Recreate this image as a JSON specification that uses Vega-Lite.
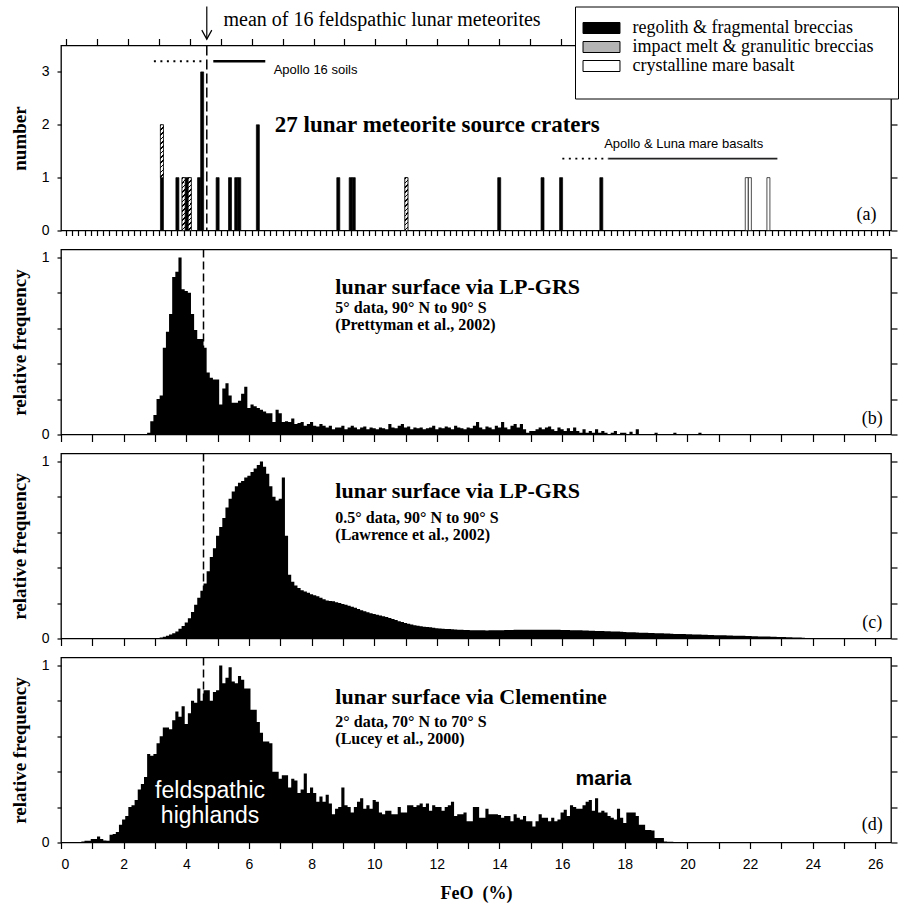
{
"$schema": "https://vega.github.io/schema/vega-lite/v6.json",
"padding": {"left": 9, "top": 4.5, "right": 0, "bottom": 3},
"bounds": "flush",
"spacing": 19,
"config": {
  "view": {"stroke": "black", "strokeWidth": 1.3},
  "axis": {"domain": false, "grid": false, "tickColor": "black", "tickWidth": 1.2, "labelColor": "black", "titleColor": "black", "labelFont": "Liberation Sans", "labelFontSize": 14, "titleFont": "Liberation Serif", "titleFontSize": 19, "titleFontWeight": "bold"},
  "text": {"font": "Liberation Serif", "color": "black"}
},
"datasets": {
  "met": [
    {"feo": 3.1, "type": "regolith & fragmental breccias", "n": 1},
    {"feo": 3.1, "type": "impact melt & granulitic breccias", "n": 1},
    {"feo": 3.6, "type": "regolith & fragmental breccias", "n": 1},
    {"feo": 3.8, "type": "impact melt & granulitic breccias", "n": 1},
    {"feo": 3.9, "type": "regolith & fragmental breccias", "n": 1},
    {"feo": 4.0, "type": "impact melt & granulitic breccias", "n": 1},
    {"feo": 4.3, "type": "regolith & fragmental breccias", "n": 1},
    {"feo": 4.4, "type": "regolith & fragmental breccias", "n": 3},
    {"feo": 4.9, "type": "regolith & fragmental breccias", "n": 1},
    {"feo": 5.3, "type": "regolith & fragmental breccias", "n": 1},
    {"feo": 5.5, "type": "regolith & fragmental breccias", "n": 1},
    {"feo": 5.6, "type": "regolith & fragmental breccias", "n": 1},
    {"feo": 6.2, "type": "regolith & fragmental breccias", "n": 2},
    {"feo": 8.8, "type": "regolith & fragmental breccias", "n": 1},
    {"feo": 9.2, "type": "regolith & fragmental breccias", "n": 1},
    {"feo": 9.3, "type": "regolith & fragmental breccias", "n": 1},
    {"feo": 11.0, "type": "impact melt & granulitic breccias", "n": 1},
    {"feo": 14.0, "type": "regolith & fragmental breccias", "n": 1},
    {"feo": 15.4, "type": "regolith & fragmental breccias", "n": 1},
    {"feo": 16.0, "type": "regolith & fragmental breccias", "n": 1},
    {"feo": 17.3, "type": "regolith & fragmental breccias", "n": 1},
    {"feo": 22.0, "type": "crystalline mare basalt", "n": 1},
    {"feo": 22.1, "type": "crystalline mare basalt", "n": 1},
    {"feo": 22.7, "type": "crystalline mare basalt", "n": 1}
  ],
  "b": [
    {"x":2.7,"f":0.0},{"x":2.8,"f":0.01},{"x":2.9,"f":0.075},{"x":3.0,"f":0.11},{"x":3.1,"f":0.2},{"x":3.2,"f":0.22},{"x":3.3,"f":0.49},{"x":3.4,"f":0.58},{"x":3.5,"f":0.68},{"x":3.6,"f":0.89},{"x":3.7,"f":0.92},{"x":3.8,"f":1.0},{"x":3.9,"f":0.82},{"x":4.0,"f":0.81},{"x":4.1,"f":0.8},{"x":4.2,"f":0.68},{"x":4.3,"f":0.59},{"x":4.4,"f":0.54},{"x":4.5,"f":0.54},{"x":4.6,"f":0.49},{"x":4.7,"f":0.35},{"x":4.8,"f":0.32},{"x":4.9,"f":0.31},{"x":5.0,"f":0.31},{"x":5.1,"f":0.17},{"x":5.2,"f":0.26},{"x":5.3,"f":0.29},{"x":5.4,"f":0.22},{"x":5.5,"f":0.18},{"x":5.6,"f":0.18},{"x":5.7,"f":0.19},{"x":5.8,"f":0.23},{"x":5.9,"f":0.27},{"x":6.0,"f":0.15},{"x":6.1,"f":0.17},{"x":6.2,"f":0.16},{"x":6.3,"f":0.15},{"x":6.4,"f":0.14},{"x":6.5,"f":0.13},{"x":6.6,"f":0.12},{"x":6.7,"f":0.12},{"x":6.8,"f":0.07},{"x":6.9,"f":0.14},{"x":7.0,"f":0.12},{"x":7.1,"f":0.07},{"x":7.2,"f":0.075},{"x":7.3,"f":0.07},{"x":7.4,"f":0.09},{"x":7.5,"f":0.06},{"x":7.6,"f":0.065},{"x":7.7,"f":0.07},{"x":7.8,"f":0.05},{"x":7.9,"f":0.06},{"x":8.0,"f":0.07},{"x":8.1,"f":0.05},{"x":8.2,"f":0.045},{"x":8.3,"f":0.06},
    {"x":8.4,"f":0.05},{"x":8.5,"f":0.04},{"x":8.6,"f":0.05},{"x":8.7,"f":0.03},{"x":8.8,"f":0.04},{"x":8.9,"f":0.04},{"x":9.0,"f":0.05},{"x":9.1,"f":0.03},{"x":9.2,"f":0.04},{"x":9.3,"f":0.05},{"x":9.4,"f":0.04},{"x":9.5,"f":0.03},{"x":9.6,"f":0.04},{"x":9.7,"f":0.045},{"x":9.8,"f":0.03},{"x":9.9,"f":0.04},{"x":10.0,"f":0.035},{"x":10.1,"f":0.03},{"x":10.2,"f":0.04},{"x":10.3,"f":0.035},{"x":10.4,"f":0.03},{"x":10.5,"f":0.06},{"x":10.6,"f":0.04},{"x":10.7,"f":0.035},{"x":10.8,"f":0.05},{"x":10.9,"f":0.06},{"x":11.0,"f":0.04},{"x":11.1,"f":0.045},{"x":11.2,"f":0.03},{"x":11.3,"f":0.04},{"x":11.4,"f":0.035},{"x":11.5,"f":0.04},{"x":11.6,"f":0.03},{"x":11.7,"f":0.035},{"x":11.8,"f":0.04},{"x":11.9,"f":0.05},{"x":12.0,"f":0.03},{"x":12.1,"f":0.04},{"x":12.2,"f":0.035},{"x":12.3,"f":0.045},{"x":12.4,"f":0.04},{"x":12.5,"f":0.03},{"x":12.6,"f":0.05},{"x":12.7,"f":0.04},{"x":12.8,"f":0.035},{"x":12.9,"f":0.03},{"x":13.0,"f":0.04},{"x":13.1,"f":0.035},{"x":13.2,"f":0.05},{"x":13.3,"f":0.07},{"x":13.4,"f":0.04},{"x":13.5,"f":0.03},{"x":13.6,"f":0.045},{"x":13.7,"f":0.04},{"x":13.8,"f":0.03},{"x":13.9,"f":0.05},{"x":14.0,"f":0.04},{"x":14.1,"f":0.07},{"x":14.2,"f":0.04},{"x":14.3,"f":0.03},{"x":14.4,"f":0.05},{"x":14.5,"f":0.06},{"x":14.6,"f":0.04},{"x":14.7,"f":0.06},{"x":14.8,"f":0.03},{"x":14.9,"f":0.01},{"x":15.0,"f":0.02},{"x":15.1,"f":0.02},{"x":15.2,"f":0.03},{"x":15.3,"f":0.04},{"x":15.4,"f":0.03},{"x":15.5,"f":0.04},{"x":15.6,"f":0.045},{"x":15.7,"f":0.03},{"x":15.8,"f":0.02},{"x":15.9,"f":0.04},{"x":16.0,"f":0.03},{"x":16.1,"f":0.02},{"x":16.2,"f":0.035},{"x":16.3,"f":0.02},{"x":16.4,"f":0.04},{"x":16.5,"f":0.02},{"x":16.6,"f":0.01},{"x":16.7,"f":0.03},{"x":16.8,"f":0.01},{"x":16.9,"f":0.02},{"x":17.0,"f":0.01},{"x":17.1,"f":0.03},{"x":17.2,"f":0.01},{"x":17.3,"f":0.02},{"x":17.4,"f":0.01},{"x":17.5,"f":0.0},{"x":17.6,"f":0.01},{"x":17.7,"f":0.02},{"x":17.8,"f":0.0},{"x":17.9,"f":0.01},{"x":18.0,"f":0.01},{"x":18.1,"f":0.0},{"x":18.2,"f":0.015},{"x":18.3,"f":0.0},{"x":18.4,"f":0.03},{"x":18.5,"f":0.0},{"x":18.6,"f":0.0},{"x":18.7,"f":0.0},{"x":18.8,"f":0.0},{"x":18.9,"f":0.0},{"x":19.0,"f":0.01},{"x":19.1,"f":0.0},{"x":19.2,"f":0.0},{"x":19.3,"f":0.0},{"x":19.4,"f":0.0},{"x":19.5,"f":0.0},{"x":19.6,"f":0.01},{"x":19.7,"f":0.0},{"x":19.8,"f":0.0},{"x":19.9,"f":0.0},{"x":20.0,"f":0.0},{"x":20.1,"f":0.0},{"x":20.2,"f":0.0},{"x":20.3,"f":0.0},{"x":20.4,"f":0.01},{"x":20.5,"f":0.0}
  ],
  "c": [
    {"x":3.0,"f":0.0},{"x":3.1,"f":0.003},{"x":3.2,"f":0.006},{"x":3.3,"f":0.01},{"x":3.4,"f":0.015},{"x":3.5,"f":0.022},{"x":3.6,"f":0.03},{"x":3.7,"f":0.04},{"x":3.8,"f":0.055},{"x":3.9,"f":0.07},{"x":4.0,"f":0.09},{"x":4.1,"f":0.115},{"x":4.2,"f":0.15},{"x":4.3,"f":0.19},{"x":4.4,"f":0.23},{"x":4.5,"f":0.27},{"x":4.6,"f":0.31},{"x":4.7,"f":0.38},{"x":4.8,"f":0.46},{"x":4.9,"f":0.51},{"x":5.0,"f":0.58},{"x":5.1,"f":0.63},{"x":5.2,"f":0.68},{"x":5.3,"f":0.74},{"x":5.4,"f":0.79},{"x":5.5,"f":0.83},{"x":5.6,"f":0.86},{"x":5.7,"f":0.88},{"x":5.8,"f":0.89},{"x":5.9,"f":0.91},{"x":6.0,"f":0.92},{"x":6.1,"f":0.94},{"x":6.2,"f":0.96},{"x":6.3,"f":0.98},{"x":6.4,"f":1.0},{"x":6.5,"f":0.97},{"x":6.6,"f":0.93},{"x":6.7,"f":0.86},{"x":6.8,"f":0.8},{"x":6.9,"f":0.78},{"x":7.0,"f":0.79},{"x":7.1,"f":0.91},{"x":7.2,"f":0.58},{"x":7.3,"f":0.36},{"x":7.4,"f":0.32},{"x":7.5,"f":0.3},{"x":7.6,"f":0.285},{"x":7.7,"f":0.272},{"x":7.8,"f":0.265},{"x":7.9,"f":0.258},{"x":8.0,"f":0.25},{"x":8.1,"f":0.245},{"x":8.2,"f":0.238},{"x":8.3,"f":0.23},{"x":8.4,"f":0.222},{"x":8.5,"f":0.215},{"x":8.6,"f":0.212},{"x":8.7,"f":0.21},{"x":8.8,"f":0.205},{"x":8.9,"f":0.2},{"x":9.0,"f":0.195},{"x":9.1,"f":0.19},{"x":9.2,"f":0.185},{"x":9.3,"f":0.18},{"x":9.4,"f":0.173},{"x":9.5,"f":0.166},{"x":9.6,"f":0.16},{"x":9.7,"f":0.154},{"x":9.8,"f":0.148},{"x":9.9,"f":0.143},{"x":10.0,"f":0.138},{"x":10.1,"f":0.134},{"x":10.2,"f":0.13},{"x":10.3,"f":0.126},{"x":10.4,"f":0.121},{"x":10.5,"f":0.116},{"x":10.6,"f":0.11},{"x":10.7,"f":0.104},{"x":10.8,"f":0.098},{"x":10.9,"f":0.093},{"x":11.0,"f":0.088},{"x":11.1,"f":0.084},{"x":11.2,"f":0.079},{"x":11.3,"f":0.075},{"x":11.4,"f":0.072},{"x":11.5,"f":0.069},{"x":11.6,"f":0.067},{"x":11.7,"f":0.065},{"x":11.8,"f":0.063},{"x":11.9,"f":0.061},
    {"x":12.0,"f":0.058},{"x":12.1,"f":0.057},{"x":12.2,"f":0.055},{"x":12.3,"f":0.054},{"x":12.4,"f":0.053},{"x":12.5,"f":0.052},{"x":12.6,"f":0.051},{"x":12.7,"f":0.05},{"x":12.8,"f":0.049},{"x":12.9,"f":0.048},{"x":13.0,"f":0.048},{"x":13.1,"f":0.047},{"x":13.2,"f":0.047},{"x":13.3,"f":0.046},{"x":13.4,"f":0.046},{"x":13.5,"f":0.046},{"x":13.6,"f":0.045},{"x":13.7,"f":0.046},{"x":13.8,"f":0.046},{"x":13.9,"f":0.047},{"x":14.0,"f":0.047},{"x":14.1,"f":0.047},{"x":14.2,"f":0.048},{"x":14.3,"f":0.048},{"x":14.4,"f":0.048},{"x":14.5,"f":0.049},{"x":14.6,"f":0.049},{"x":14.7,"f":0.049},{"x":14.8,"f":0.049},{"x":14.9,"f":0.05},{"x":15.0,"f":0.05},{"x":15.1,"f":0.05},{"x":15.2,"f":0.05},{"x":15.3,"f":0.05},{"x":15.4,"f":0.05},{"x":15.5,"f":0.05},{"x":15.6,"f":0.05},{"x":15.7,"f":0.049},{"x":15.8,"f":0.049},{"x":15.9,"f":0.049},{"x":16.0,"f":0.048},{"x":16.1,"f":0.048},{"x":16.2,"f":0.048},{"x":16.3,"f":0.047},{"x":16.4,"f":0.047},{"x":16.5,"f":0.046},{"x":16.6,"f":0.046},{"x":16.7,"f":0.045},{"x":16.8,"f":0.045},{"x":16.9,"f":0.044},{"x":17.0,"f":0.044},{"x":17.1,"f":0.043},{"x":17.2,"f":0.043},{"x":17.3,"f":0.042},{"x":17.4,"f":0.041},{"x":17.5,"f":0.041},{"x":17.6,"f":0.04},{"x":17.7,"f":0.04},{"x":17.8,"f":0.039},{"x":17.9,"f":0.038},{"x":18.0,"f":0.037},{"x":18.1,"f":0.036},{"x":18.2,"f":0.036},{"x":18.3,"f":0.035},{"x":18.4,"f":0.034},{"x":18.5,"f":0.033},{"x":18.6,"f":0.033},{"x":18.7,"f":0.032},{"x":18.8,"f":0.031},{"x":18.9,"f":0.031},{"x":19.0,"f":0.03},{"x":19.1,"f":0.029},{"x":19.2,"f":0.029},{"x":19.3,"f":0.028},{"x":19.4,"f":0.028},{"x":19.5,"f":0.027},{"x":19.6,"f":0.026},{"x":19.7,"f":0.026},{"x":19.8,"f":0.025},{"x":19.9,"f":0.025},{"x":20.0,"f":0.024},{"x":20.1,"f":0.024},{"x":20.2,"f":0.023},{"x":20.3,"f":0.022},{"x":20.4,"f":0.022},{"x":20.5,"f":0.021},{"x":20.6,"f":0.021},{"x":20.7,"f":0.02},{"x":20.8,"f":0.02},{"x":20.9,"f":0.019},{"x":21.0,"f":0.019},{"x":21.1,"f":0.018},{"x":21.2,"f":0.018},{"x":21.3,"f":0.017},{"x":21.4,"f":0.017},{"x":21.5,"f":0.016},{"x":21.6,"f":0.016},{"x":21.7,"f":0.015},{"x":21.8,"f":0.015},{"x":21.9,"f":0.014},{"x":22.0,"f":0.014},{"x":22.1,"f":0.013},{"x":22.2,"f":0.013},{"x":22.3,"f":0.012},{"x":22.4,"f":0.012},{"x":22.5,"f":0.011},{"x":22.6,"f":0.011},{"x":22.7,"f":0.01},{"x":22.8,"f":0.01},{"x":22.9,"f":0.009},{"x":23.0,"f":0.009},{"x":23.1,"f":0.008},{"x":23.2,"f":0.007},{"x":23.3,"f":0.007},{"x":23.4,"f":0.006},{"x":23.5,"f":0.005},{"x":23.6,"f":0.005},{"x":23.7,"f":0.004},{"x":23.8,"f":0.003},{"x":23.9,"f":0.003},{"x":24.0,"f":0.002},{"x":24.1,"f":0.001},{"x":24.2,"f":0.0}
  ],
  "d": [
    {"x":0.6,"f":0.0},{"x":0.7,"f":0.005},{"x":0.8,"f":0.01},{"x":0.9,"f":0.01},{"x":1.0,"f":0.02},{"x":1.1,"f":0.02},{"x":1.2,"f":0.034},{"x":1.3,"f":0.02},{"x":1.4,"f":0.012},{"x":1.5,"f":0.01},{"x":1.6,"f":0.044},{"x":1.7,"f":0.048},{"x":1.8,"f":0.06},{"x":1.9,"f":0.1},{"x":2.0,"f":0.13},{"x":2.1,"f":0.15},{"x":2.2,"f":0.2},{"x":2.3,"f":0.21},{"x":2.4,"f":0.24},{"x":2.5,"f":0.3},{"x":2.6,"f":0.33},{"x":2.7,"f":0.37},{"x":2.8,"f":0.5},{"x":2.9,"f":0.49},{"x":3.0,"f":0.5},{"x":3.1,"f":0.56},{"x":3.2,"f":0.6},{"x":3.3,"f":0.65},{"x":3.4,"f":0.65},{"x":3.5,"f":0.64},{"x":3.6,"f":0.69},{"x":3.7,"f":0.74},{"x":3.8,"f":0.71},{"x":3.9,"f":0.77},{"x":4.0,"f":0.67},{"x":4.1,"f":0.73},{"x":4.2,"f":0.8},{"x":4.3,"f":0.79},{"x":4.4,"f":0.87},{"x":4.5,"f":0.8},{"x":4.6,"f":0.86},{"x":4.7,"f":0.86},{"x":4.8,"f":0.8},{"x":4.9,"f":0.85},{"x":5.0,"f":0.86},{"x":5.1,"f":1.0},{"x":5.2,"f":0.9},{"x":5.3,"f":0.93},{"x":5.4,"f":0.99},{"x":5.5,"f":0.91},{"x":5.6,"f":0.9},{"x":5.7,"f":0.94},{"x":5.8,"f":0.92},{"x":5.9,"f":0.87},{"x":6.0,"f":0.87},{"x":6.1,"f":0.75},{"x":6.2,"f":0.75},{"x":6.3,"f":0.68},{"x":6.4,"f":0.62},{"x":6.5,"f":0.57},{"x":6.6,"f":0.57},{"x":6.7,"f":0.56},{"x":6.8,"f":0.4},{"x":6.9,"f":0.4},{"x":7.0,"f":0.36},{"x":7.1,"f":0.38},{"x":7.2,"f":0.38},{"x":7.3,"f":0.31},{"x":7.4,"f":0.36},{"x":7.5,"f":0.35},{"x":7.6,"f":0.28},{"x":7.7,"f":0.3},{"x":7.8,"f":0.39},{"x":7.9,"f":0.28},{"x":8.0,"f":0.31},{"x":8.1,"f":0.28},{"x":8.2,"f":0.23},{"x":8.3,"f":0.26},{"x":8.4,"f":0.23},{"x":8.5,"f":0.27},{"x":8.6,"f":0.22},{"x":8.7,"f":0.16},{"x":8.8,"f":0.19},{"x":8.9,"f":0.2},{"x":9.0,"f":0.31},{"x":9.1,"f":0.21},{"x":9.2,"f":0.2},{"x":9.3,"f":0.17},{"x":9.4,"f":0.2},{"x":9.5,"f":0.23},{"x":9.6,"f":0.25},{"x":9.7,"f":0.19},{"x":9.8,"f":0.21},{"x":9.9,"f":0.19},{"x":10.0,"f":0.24},{"x":10.1,"f":0.23},{"x":10.2,"f":0.17},{"x":10.3,"f":0.16},{"x":10.4,"f":0.18},{"x":10.5,"f":0.18},{"x":10.6,"f":0.16},{"x":10.7,"f":0.16},{"x":10.8,"f":0.2},{"x":10.9,"f":0.17},{"x":11.0,"f":0.17},{"x":11.1,"f":0.21},{"x":11.2,"f":0.21},{"x":11.3,"f":0.2},{"x":11.4,"f":0.21},{"x":11.5,"f":0.22},{"x":11.6,"f":0.2},{"x":11.7,"f":0.22},{"x":11.8,"f":0.18},{"x":11.9,"f":0.21},{"x":12.0,"f":0.2},{"x":12.1,"f":0.2},{"x":12.2,"f":0.18},{"x":12.3,"f":0.2},{"x":12.4,"f":0.21},{"x":12.5,"f":0.23},{"x":12.6,"f":0.15},{"x":12.7,"f":0.16},{"x":12.8,"f":0.16},{"x":12.9,"f":0.17},{"x":13.0,"f":0.12},{"x":13.1,"f":0.12},{"x":13.2,"f":0.2},{"x":13.3,"f":0.2},{"x":13.4,"f":0.14},{"x":13.5,"f":0.14},{"x":13.6,"f":0.19},{"x":13.7,"f":0.16},{"x":13.8,"f":0.16},{"x":13.9,"f":0.16},{"x":14.0,"f":0.155},{"x":14.1,"f":0.14},{"x":14.2,"f":0.15},{"x":14.3,"f":0.15},{"x":14.4,"f":0.12},{"x":14.5,"f":0.16},{"x":14.6,"f":0.14},{"x":14.7,"f":0.13},{"x":14.8,"f":0.15},{"x":14.9,"f":0.12},{"x":15.0,"f":0.12},{"x":15.1,"f":0.09},{"x":15.2,"f":0.12},{"x":15.3,"f":0.16},{"x":15.4,"f":0.14},{"x":15.5,"f":0.14},{"x":15.6,"f":0.12},{"x":15.7,"f":0.14},{"x":15.8,"f":0.12},{"x":15.9,"f":0.13},{"x":16.0,"f":0.17},{"x":16.1,"f":0.185},{"x":16.2,"f":0.15},{"x":16.3,"f":0.21},{"x":16.4,"f":0.2},{"x":16.5,"f":0.19},{"x":16.6,"f":0.19},{"x":16.7,"f":0.21},{"x":16.8,"f":0.23},{"x":16.9,"f":0.24},{"x":17.0,"f":0.18},{"x":17.1,"f":0.25},{"x":17.2,"f":0.17},{"x":17.3,"f":0.18},{"x":17.4,"f":0.17},{"x":17.5,"f":0.15},{"x":17.6,"f":0.14},{"x":17.7,"f":0.13},{"x":17.8,"f":0.19},{"x":17.9,"f":0.14},{"x":18.0,"f":0.11},{"x":18.1,"f":0.17},{"x":18.2,"f":0.17},{"x":18.3,"f":0.17},{"x":18.4,"f":0.15},{"x":18.5,"f":0.1},{"x":18.6,"f":0.1},{"x":18.7,"f":0.07},{"x":18.8,"f":0.07},{"x":18.9,"f":0.068},{"x":19.0,"f":0.025},{"x":19.1,"f":0.025},{"x":19.2,"f":0.025},{"x":19.3,"f":0.006},{"x":19.4,"f":0.004},{"x":19.5,"f":0.004},{"x":19.6,"f":0.0}
  ]
},
"vconcat": [
  {
    "width": 830, "height": 185,
    "resolve": {"axis": {"x": "independent", "y": "independent"}},
    "layer": [
      {
        "data": {"name": "met"},
        "transform": [{"stack": "n", "groupby": ["feo"], "sort": [{"field": "type", "order": "descending"}], "as": ["n0", "n1"]}],
        "mark": {"type": "bar", "width": 3, "stroke": "black", "strokeWidth": 0.7},
        "encoding": {
          "x": {"field": "feo", "type": "quantitative", "scale": {"domain": [0, 26.5], "nice": false, "zero": false},
                "axis": {"orient": "bottom", "tickCount": 133, "labels": false, "tickSize": 5, "title": null}},
          "y": {"field": "n0", "type": "quantitative", "scale": {"domain": [0, 3.5], "nice": false},
                "axis": {"orient": "left", "values": [0, 1, 2, 3], "format": "~g", "tickSize": 4, "labelPadding": 8, "title": "number", "titlePadding": 12}},
          "y2": {"field": "n1"},
          "fill": {"field": "type", "type": "nominal",
            "scale": {"domain": ["regolith & fragmental breccias", "impact melt & granulitic breccias", "crystalline mare basalt"],
                      "range": ["black", "#b4b4b4", "white"]},
            "legend": {
              "orient": "none", "legendX": 514, "legendY": -39,
              "title": "______________________________________________________________________",
              "titleOrient": "bottom", "titleOpacity": 0, "titleFontSize": 8, "titlePadding": 3, "titleLimit": 300,
              "fillColor": "white", "strokeColor": "black", "padding": 12.5,
              "symbolType": "M-3.36,-1H3.36V1H-3.36Z", "symbolSize": 121, "symbolOffset": 5, "symbolStrokeColor": "black", "symbolStrokeWidth": 1,
              "labelFont": "Liberation Serif", "labelFontSize": 18, "labelColor": "black", "labelOffset": 22, "labelLimit": 500, "rowPadding": 1,
              "encode": {"symbols": {"update": {"stroke": {"value": "black"}, "strokeWidth": {"value": 1}, "opacity": {"value": 1}}}}
            }}
        }
      },
      {
        "data": {"name": "met"},
        "transform": [{"stack": "n", "groupby": ["feo"], "sort": [{"field": "type", "order": "descending"}], "as": ["n0", "n1"]},
                      {"filter": "datum.type === 'impact melt & granulitic breccias'"}],
        "mark": {"type": "bar", "width": 3, "stroke": "black", "strokeWidth": 0.7,
                 "fill": {"gradient": "linear", "x1": 0, "y1": 0, "x2": 0.061, "y2": 1.06, "stops": [
                          {"offset":0,"color":"black"},{"offset":0.029,"color":"black"},{"offset":0.029,"color":"white"},{"offset":0.083,"color":"white"},
                          {"offset":0.083,"color":"black"},{"offset":0.112,"color":"black"},{"offset":0.112,"color":"white"},{"offset":0.167,"color":"white"},
                          {"offset":0.167,"color":"black"},{"offset":0.196,"color":"black"},{"offset":0.196,"color":"white"},{"offset":0.25,"color":"white"},
                          {"offset":0.25,"color":"black"},{"offset":0.279,"color":"black"},{"offset":0.279,"color":"white"},{"offset":0.333,"color":"white"},
                          {"offset":0.333,"color":"black"},{"offset":0.362,"color":"black"},{"offset":0.362,"color":"white"},{"offset":0.417,"color":"white"},
                          {"offset":0.417,"color":"black"},{"offset":0.446,"color":"black"},{"offset":0.446,"color":"white"},{"offset":0.5,"color":"white"},
                          {"offset":0.5,"color":"black"},{"offset":0.529,"color":"black"},{"offset":0.529,"color":"white"},{"offset":0.583,"color":"white"},
                          {"offset":0.583,"color":"black"},{"offset":0.612,"color":"black"},{"offset":0.612,"color":"white"},{"offset":0.667,"color":"white"},
                          {"offset":0.667,"color":"black"},{"offset":0.696,"color":"black"},{"offset":0.696,"color":"white"},{"offset":0.75,"color":"white"},
                          {"offset":0.75,"color":"black"},{"offset":0.779,"color":"black"},{"offset":0.779,"color":"white"},{"offset":0.833,"color":"white"},
                          {"offset":0.833,"color":"black"},{"offset":0.862,"color":"black"},{"offset":0.862,"color":"white"},{"offset":0.917,"color":"white"},
                          {"offset":0.917,"color":"black"},{"offset":0.946,"color":"black"},{"offset":0.946,"color":"white"},{"offset":1,"color":"white"}]}},
        "encoding": {
          "x": {"field": "feo", "type": "quantitative", "axis": null},
          "y": {"field": "n0", "type": "quantitative", "axis": null},
          "y2": {"field": "n1"}
        }
      },
      {
        "data": {"values": [{}]},
        "mark": {"type": "rule", "strokeDash": [10, 4], "strokeWidth": 1.5, "color": "black"},
        "encoding": {"x": {"datum": 4.55, "type": "quantitative", "scale": {"domain": [0, 26.5], "nice": false, "zero": false},
                           "axis": {"orient": "top", "tickCount": 27, "labels": false, "tickSize": 7, "title": null}}}
      },
      {
        "data": {"values": [{}]},
        "mark": {"type": "rule", "strokeWidth": 1.2, "color": "black"},
        "encoding": {"x": {"datum": 4.55, "type": "quantitative", "axis": null},
                     "y": {"datum": 4.24, "type": "quantitative", "axis": null}, "y2": {"datum": 3.62}}
      },
      {
        "data": {"values": [{}]},
        "mark": {"type": "point", "shape": "M-1,-1.8L0,0L1,-1.8", "size": 100, "filled": false, "stroke": "black", "strokeWidth": 1.2, "opacity": 1},
        "encoding": {"x": {"datum": 4.55, "type": "quantitative", "axis": null},
                     "y": {"datum": 3.62, "type": "quantitative", "axis": null}}
      },
      {
        "data": {"values": [{}]},
        "mark": {"type": "rule", "strokeDash": [2, 4.5], "strokeWidth": 2, "color": "black"},
        "encoding": {"x": {"datum": 2.84, "type": "quantitative", "axis": null}, "x2": {"datum": 4.48},
                     "y": {"datum": 3.2, "type": "quantitative", "axis": null}}
      },
      {
        "data": {"values": [{}]},
        "mark": {"type": "rule", "strokeWidth": 2.5, "color": "black"},
        "encoding": {"x": {"datum": 4.76, "type": "quantitative", "axis": null}, "x2": {"datum": 6.44},
                     "y": {"datum": 3.2, "type": "quantitative", "axis": null}}
      },
      {
        "data": {"values": [{}]},
        "mark": {"type": "text", "font": "Liberation Sans", "fontSize": 13, "align": "left", "baseline": "middle"},
        "encoding": {"x": {"datum": 6.71, "type": "quantitative", "axis": null},
                     "y": {"datum": 3.04, "type": "quantitative", "axis": null},
                     "text": {"value": "Apollo 16 soils"}}
      },
      {
        "data": {"values": [{}]},
        "mark": {"type": "rule", "strokeDash": [2, 4.5], "strokeWidth": 1.8, "color": "black"},
        "encoding": {"x": {"datum": 16.04, "type": "quantitative", "axis": null}, "x2": {"datum": 17.53},
                     "y": {"datum": 1.36, "type": "quantitative", "axis": null}}
      },
      {
        "data": {"values": [{}]},
        "mark": {"type": "rule", "strokeWidth": 1.8, "color": "#222222"},
        "encoding": {"x": {"datum": 17.53, "type": "quantitative", "axis": null}, "x2": {"datum": 22.99},
                     "y": {"datum": 1.36, "type": "quantitative", "axis": null}}
      },
      {
        "data": {"values": [{}]},
        "mark": {"type": "text", "font": "Liberation Sans", "fontSize": 13, "align": "center", "baseline": "middle"},
        "encoding": {"x": {"datum": 19.96, "type": "quantitative", "axis": null},
                     "y": {"datum": 1.63, "type": "quantitative", "axis": null},
                     "text": {"value": "Apollo & Luna mare basalts"}}
      },
      {
        "data": {"values": [{}]},
        "mark": {"type": "text", "fontSize": 23, "fontWeight": "bold", "align": "left", "baseline": "middle"},
        "encoding": {"x": {"datum": 6.75, "type": "quantitative", "axis": null},
                     "y": {"datum": 2.0, "type": "quantitative", "axis": null},
                     "text": {"value": "27 lunar meteorite source craters"}}
      },
      {
        "data": {"values": [{}]},
        "mark": {"type": "text", "fontSize": 20, "align": "left", "baseline": "middle"},
        "encoding": {"x": {"datum": 5.09, "type": "quantitative", "axis": null},
                     "y": {"datum": 3.99, "type": "quantitative", "axis": null},
                     "text": {"value": "mean of 16 feldspathic lunar meteorites"}}
      },
      {
        "data": {"values": [{}]},
        "mark": {"type": "text", "fontSize": 18, "align": "center", "baseline": "middle"},
        "encoding": {"x": {"datum": 25.87, "type": "quantitative", "axis": null},
                     "y": {"datum": 0.3, "type": "quantitative", "scale": {"domain": [0, 3.5], "nice": false},
                           "axis": {"orient": "right", "values": [0, 1, 2, 3], "labels": false, "tickSize": 6, "title": null}},
                     "text": {"value": "(a)"}}
      }
    ]
  },
  {
    "width": 830, "height": 185,
    "resolve": {"axis": {"x": "independent", "y": "independent"}},
    "layer": [
      {
        "data": {"values": [{}]},
        "mark": {"type": "rule", "strokeDash": [8, 4], "strokeWidth": 1.5, "color": "black"},
        "encoding": {"x": {"datum": 4.55, "type": "quantitative", "scale": {"domain": [0, 26.5], "nice": false, "zero": false}, "axis": null}}
      },
      {
        "data": {"name": "b"},
        "mark": {"type": "area", "interpolate": "step", "color": "black"},
        "encoding": {
          "x": {"field": "x", "type": "quantitative", "scale": {"domain": [0, 26.5], "nice": false, "zero": false},
                "axis": {"orient": "bottom", "values": [0,1,2,3,4,5,6,7,8,9,10,11,12,13,14,15,16,17,18,19,20,21,22,23,24,25,26], "labels": false, "tickSize": 7, "title": null}},
          "y": {"field": "f", "type": "quantitative", "scale": {"domain": [0, 1.045], "nice": false},
                "axis": {"orient": "left", "values": [0, 0.2, 0.4, 0.6, 0.8, 1], "format": "~g", "labelExpr": "datum.value === 0 || datum.value === 1 ? datum.label : ''", "tickSize": 4, "labelPadding": 8, "title": "relative frequency", "titlePadding": 12}}
        }
      },
      {
        "data": {"values": [{}]},
        "mark": {"type": "text", "fontSize": 22, "fontWeight": "bold", "align": "left", "baseline": "middle"},
        "encoding": {"x": {"datum": 8.76, "type": "quantitative", "axis": null},
                     "y": {"datum": 0.835, "type": "quantitative", "axis": null},
                     "text": {"value": "lunar surface via LP-GRS"}}
      },
      {
        "data": {"values": [{}]},
        "mark": {"type": "text", "fontSize": 16, "fontWeight": "bold", "align": "left", "baseline": "top", "lineHeight": 17},
        "encoding": {"x": {"datum": 8.76, "type": "quantitative", "axis": null},
                     "y": {"datum": 0.758, "type": "quantitative", "axis": null},
                     "text": {"value": ["5° data, 90° N to 90° S", "(Prettyman et al., 2002)"]}}
      },
      {
        "data": {"values": [{}]},
        "mark": {"type": "text", "fontSize": 18, "align": "center", "baseline": "middle"},
        "encoding": {"x": {"datum": 25.9, "type": "quantitative", "axis": null},
                     "y": {"datum": 0.085, "type": "quantitative", "scale": {"domain": [0, 1.045], "nice": false},
                           "axis": {"orient": "right", "values": [0, 0.2, 0.4, 0.6, 0.8, 1], "labels": false, "tickSize": 6, "title": null}},
                     "text": {"value": "(b)"}}
      }
    ]
  },
  {
    "width": 830, "height": 185,
    "resolve": {"axis": {"x": "independent", "y": "independent"}},
    "layer": [
      {
        "data": {"values": [{}]},
        "mark": {"type": "rule", "strokeDash": [8, 4], "strokeWidth": 1.5, "color": "black"},
        "encoding": {"x": {"datum": 4.55, "type": "quantitative", "scale": {"domain": [0, 26.5], "nice": false, "zero": false}, "axis": null}}
      },
      {
        "data": {"name": "c"},
        "mark": {"type": "area", "interpolate": "step", "color": "black"},
        "encoding": {
          "x": {"field": "x", "type": "quantitative", "scale": {"domain": [0, 26.5], "nice": false, "zero": false},
                "axis": {"orient": "bottom", "values": [0,1,2,3,4,5,6,7,8,9,10,11,12,13,14,15,16,17,18,19,20,21,22,23,24,25,26], "labels": false, "tickSize": 7, "title": null}},
          "y": {"field": "f", "type": "quantitative", "scale": {"domain": [0, 1.045], "nice": false},
                "axis": {"orient": "left", "values": [0, 0.2, 0.4, 0.6, 0.8, 1], "format": "~g", "labelExpr": "datum.value === 0 || datum.value === 1 ? datum.label : ''", "tickSize": 4, "labelPadding": 8, "title": "relative frequency", "titlePadding": 12}}
        }
      },
      {
        "data": {"values": [{}]},
        "mark": {"type": "text", "fontSize": 22, "fontWeight": "bold", "align": "left", "baseline": "middle"},
        "encoding": {"x": {"datum": 8.76, "type": "quantitative", "axis": null},
                     "y": {"datum": 0.834, "type": "quantitative", "axis": null},
                     "text": {"value": "lunar surface via LP-GRS"}}
      },
      {
        "data": {"values": [{}]},
        "mark": {"type": "text", "fontSize": 16, "fontWeight": "bold", "align": "left", "baseline": "top", "lineHeight": 17},
        "encoding": {"x": {"datum": 8.76, "type": "quantitative", "axis": null},
                     "y": {"datum": 0.728, "type": "quantitative", "axis": null},
                     "text": {"value": ["0.5° data, 90° N to 90° S", "(Lawrence et al., 2002)"]}}
      },
      {
        "data": {"values": [{}]},
        "mark": {"type": "text", "fontSize": 18, "align": "center", "baseline": "middle"},
        "encoding": {"x": {"datum": 25.9, "type": "quantitative", "axis": null},
                     "y": {"datum": 0.088, "type": "quantitative", "scale": {"domain": [0, 1.045], "nice": false},
                           "axis": {"orient": "right", "values": [0, 0.2, 0.4, 0.6, 0.8, 1], "labels": false, "tickSize": 6, "title": null}},
                     "text": {"value": "(c)"}}
      }
    ]
  },
  {
    "width": 830, "height": 185,
    "resolve": {"axis": {"x": "independent", "y": "independent"}},
    "layer": [
      {
        "data": {"values": [{}]},
        "mark": {"type": "rule", "strokeDash": [8, 4], "strokeWidth": 1.5, "color": "black"},
        "encoding": {"x": {"datum": 4.55, "type": "quantitative", "scale": {"domain": [0, 26.5], "nice": false, "zero": false}, "axis": null}}
      },
      {
        "data": {"name": "d"},
        "mark": {"type": "area", "interpolate": "step", "color": "black"},
        "encoding": {
          "x": {"field": "x", "type": "quantitative", "scale": {"domain": [0, 26.5], "nice": false, "zero": false},
                "axis": {"orient": "bottom", "values": [0,1,2,3,4,5,6,7,8,9,10,11,12,13,14,15,16,17,18,19,20,21,22,23,24,25,26],
                         "labelExpr": "datum.value % 2 === 0 ? datum.label : ''", "tickSize": 6, "labelPadding": 9,
                         "title": "FeO\u00a0\u00a0(%)", "titleFontSize": 18, "titlePadding": 13}},
          "y": {"field": "f", "type": "quantitative", "scale": {"domain": [0, 1.045], "nice": false},
                "axis": {"orient": "left", "values": [0, 0.2, 0.4, 0.6, 0.8, 1], "format": "~g", "labelExpr": "datum.value === 0 || datum.value === 1 ? datum.label : ''", "tickSize": 4, "labelPadding": 8, "title": "relative frequency", "titlePadding": 12}}
        }
      },
      {
        "data": {"values": [{}]},
        "mark": {"type": "text", "fontSize": 22, "fontWeight": "bold", "align": "left", "baseline": "middle"},
        "encoding": {"x": {"datum": 8.76, "type": "quantitative", "axis": null},
                     "y": {"datum": 0.82, "type": "quantitative", "axis": null},
                     "text": {"value": "lunar surface via Clementine"}}
      },
      {
        "data": {"values": [{}]},
        "mark": {"type": "text", "fontSize": 16, "fontWeight": "bold", "align": "left", "baseline": "top", "lineHeight": 17},
        "encoding": {"x": {"datum": 8.76, "type": "quantitative", "axis": null},
                     "y": {"datum": 0.726, "type": "quantitative", "axis": null},
                     "text": {"value": ["2° data, 70° N to 70° S", "(Lucey et al., 2000)"]}}
      },
      {
        "data": {"values": [{}]},
        "mark": {"type": "text", "font": "Liberation Sans", "fontSize": 23, "color": "white", "align": "center", "baseline": "middle"},
        "encoding": {"x": {"datum": 4.76, "type": "quantitative", "axis": null},
                     "y": {"datum": 0.29, "type": "quantitative", "axis": null},
                     "text": {"value": "feldspathic"}}
      },
      {
        "data": {"values": [{}]},
        "mark": {"type": "text", "font": "Liberation Sans", "fontSize": 23, "color": "white", "align": "center", "baseline": "middle"},
        "encoding": {"x": {"datum": 4.76, "type": "quantitative", "axis": null},
                     "y": {"datum": 0.148, "type": "quantitative", "axis": null},
                     "text": {"value": "highlands"}}
      },
      {
        "data": {"values": [{}]},
        "mark": {"type": "text", "font": "Liberation Sans", "fontSize": 21, "fontWeight": "bold", "align": "center", "baseline": "middle"},
        "encoding": {"x": {"datum": 17.32, "type": "quantitative", "axis": null},
                     "y": {"datum": 0.36, "type": "quantitative", "axis": null},
                     "text": {"value": "maria"}}
      },
      {
        "data": {"values": [{}]},
        "mark": {"type": "text", "fontSize": 18, "align": "center", "baseline": "middle"},
        "encoding": {"x": {"datum": 25.9, "type": "quantitative", "axis": null},
                     "y": {"datum": 0.1, "type": "quantitative", "scale": {"domain": [0, 1.045], "nice": false},
                           "axis": {"orient": "right", "values": [0, 0.2, 0.4, 0.6, 0.8, 1], "labels": false, "tickSize": 6, "title": null}},
                     "text": {"value": "(d)"}}
      }
    ]
  }
]
}
